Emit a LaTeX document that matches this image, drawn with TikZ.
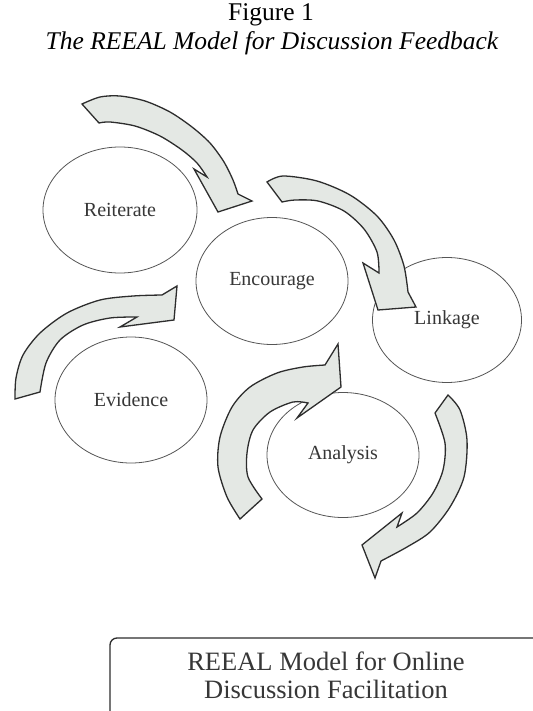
\documentclass[tikz,border=0pt]{standalone}
\usepackage{fontspec}
\setmainfont{Liberation Serif}
\usetikzlibrary{shapes.geometric}
\definecolor{arrowfill}{RGB}{228,232,228}
\definecolor{inkline}{RGB}{45,45,45}
\definecolor{ovalline}{RGB}{85,85,85}
\definecolor{labelink}{RGB}{55,55,55}
\tikzset{
  oval/.style={draw=ovalline, line width=0.8pt, fill=white, ellipse, inner sep=0pt,
    font=\fontsize{20}{24}\selectfont, text=labelink},
  blockarrow/.style={draw=inkline, line width=1.3pt, fill=arrowfill, line join=miter},
  titletext/.style={anchor=base, font=\fontsize{25.5}{29}\selectfont},
  boxtext/.style={anchor=base, font=\fontsize{26.5}{30}\selectfont, text=labelink},
}
\begin{document}
\begin{tikzpicture}[x=1pt,y=-1pt]
\useasboundingbox (0,0) rectangle (532,711);
\fill[white] (0,0) rectangle (532,711);

% title
\node[titletext] (t1) at (271,21) {Figure 1};
\node[titletext] (t2) at (272,50) {\itshape The REEAL Model for Discussion Feedback};

% ovals
\node[oval, minimum width=154pt, minimum height=126pt] (rei) at (120,210) {Reiterate};
\node[oval, minimum width=152pt, minimum height=127pt] (enc) at (272,281) {Encourage};
\node[oval, minimum width=149pt, minimum height=125pt] (lin) at (447,320) {Linkage};
\node[oval, minimum width=152pt, minimum height=126pt] (evi) at (131,400) {Evidence};
\node[oval, minimum width=152pt, minimum height=125pt] (ana) at (343,455) {Analysis};

% arrow 1 (top-left, toward Encourage)
\draw[blockarrow] plot[smooth] coordinates {(82,104) (100,97) (120,96) (145,101) (170,112) (192,127) (210,143) (224,162) (233,180) (238,194)}
  -- (252,201) -- (218,212) -- (194,169) -- (207,177)
  -- plot[smooth] coordinates {(207,177) (197,163) (182,150) (160,136) (135,126) (110,122) (99,123)}
  -- cycle;

% arrow 2 (Encourage to Linkage)
\draw[blockarrow] plot[smooth] coordinates {(267,182) (283,176) (317,181) (350,195) (377,216) (394,240) (404,266) (408,292)}
  -- (416,307) -- (378,310) -- (363,263) -- (379,273)
  -- plot[smooth] coordinates {(379,273) (377,252) (364,229) (344,211) (318,201) (295,200) (282,202)}
  -- cycle;

% arrow 3 (Evidence to Encourage)
\draw[blockarrow] plot[smooth] coordinates {(15,399) (16,378) (23,355) (40,333) (67,313) (100,300) (133,296) (162,295)}
  -- (177,286) -- (174,320) -- (120,327) -- (137,317)
  -- plot[smooth] coordinates {(137,317) (110,318) (83,325) (60,340) (46,363) (40,392)}
  -- cycle;

% arrow 4 (around Analysis, upward)
\draw[blockarrow] plot[smooth] coordinates {(240,519) (227,497) (218,467) (220,437) (232,407) (250,387) (277,373) (303,367) (325,365)}
  -- (338,344) -- (341,387) -- (297,418) -- (308,403)
  -- plot[smooth] coordinates {(308,403) (293,402) (270,412) (253,430) (247,453) (248,477) (262,499)}
  -- cycle;

% arrow 5 (right of Analysis, downward)
\draw[blockarrow] plot[smooth] coordinates {(448,395) (460,410) (467,440) (464,477) (450,507) (430,532) (407,547) (381,561)}
  -- (375,578) -- (362,545) -- (402,513) -- (397,527)
  -- plot[smooth] coordinates {(397,527) (417,513) (433,493) (443,470) (445,443) (435,413)}
  -- cycle;

% bottom box
\draw[draw=inkline, line width=1.3pt, rounded corners=7pt] (110,725) -- (110,638) -- (545,638);
\node[boxtext] (b1) at (326,670) {REEAL Model for Online};
\node[boxtext] (b2) at (326,698) {Discussion Facilitation};
\end{tikzpicture}
\end{document}
